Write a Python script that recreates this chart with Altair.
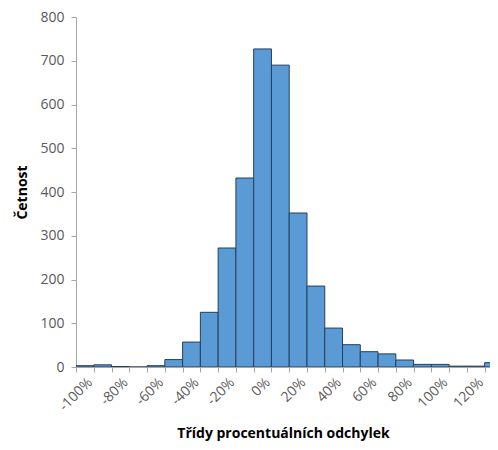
import altair as alt
import pandas as pd

bins = [-100, -90, -80, -70, -60, -50, -40, -30, -20, -10, 0, 10, 20, 30,
        40, 50, 60, 70, 80, 90, 100, 110, 120, 130]
counts = [3, 5, 1, 0, 3, 17, 57, 125, 272, 432, 727, 690, 352, 185,
          89, 51, 35, 30, 16, 6, 6, 2, 2, 10]
tick_labels = [-100, -80, -60, -40, -20, 0, 20, 40, 60, 80, 100, 120]
y_ticks = [0, 100, 200, 300, 400, 500, 600, 700, 800]

df = pd.DataFrame({"bin": bins, "count": counts})
df["start"] = df["bin"] - 5
df["end"] = df["bin"] + 5
df["base"] = 0
edges = [b - 5 for b in bins]

FONT = "Open Sans"
GREY = "#A6A6A6"

xscale = alt.Scale(domain=[-105, 128], nice=False, zero=False)

bars = alt.Chart(df).mark_bar(
    color="#5B9BD5", stroke="#253F5E", strokeWidth=1, clip=True
).encode(
    x=alt.X(
        "start:Q",
        scale=xscale,
        axis=alt.Axis(
            orient="bottom",
            values=edges,
            labels=False,
            title=None,
            grid=False,
            tickSize=5,
            tickColor=GREY,
            domainColor=GREY,
        ),
    ),
    x2="end:Q",
    y=alt.Y(
        "count:Q",
        scale=alt.Scale(domain=[0, 800], nice=False),
        axis=alt.Axis(
            title="Četnost",
            values=y_ticks,
            grid=False,
            labelFontSize=14,
            labelColor="#595959",
            labelFont=FONT,
            tickSize=5,
            tickColor=GREY,
            domainColor=GREY,
            labelPadding=7,
            titleFont=FONT,
            titleFontSize=14,
            titleFontWeight="bold",
            titleColor="#000000",
            titlePadding=10,
        ),
    ),
    y2="base:Q",
)

labels = alt.Chart(pd.DataFrame({"v": tick_labels})).mark_point(opacity=0).encode(
    x=alt.X(
        "v:Q",
        scale=xscale,
        axis=alt.Axis(
            orient="bottom",
            values=tick_labels,
            labelExpr="datum.value + '%'",
            labelAngle=-45,
            labelFontSize=14,
            labelColor="#595959",
            labelFont=FONT,
            ticks=False,
            domain=False,
            grid=False,
            labelPadding=8,
            labelFlush=False,
            labelOverlap=False,
            title="Třídy procentuálních odchylek",
            titleFont=FONT,
            titleFontSize=14,
            titleFontWeight="bold",
            titleColor="#000000",
            titlePadding=13,
        ),
    ),
)

chart = alt.layer(bars, labels).resolve_axis(x="independent").resolve_scale(
    x="shared"
).properties(
    width=414,
    height=350,
    autosize=alt.AutoSizeParams(type="none"),
    padding={"left": 68, "top": 9, "right": 0, "bottom": 75},
).configure_view(stroke=None)

chart.save("out.html", embed_options={"renderer": "svg", "actions": False})
